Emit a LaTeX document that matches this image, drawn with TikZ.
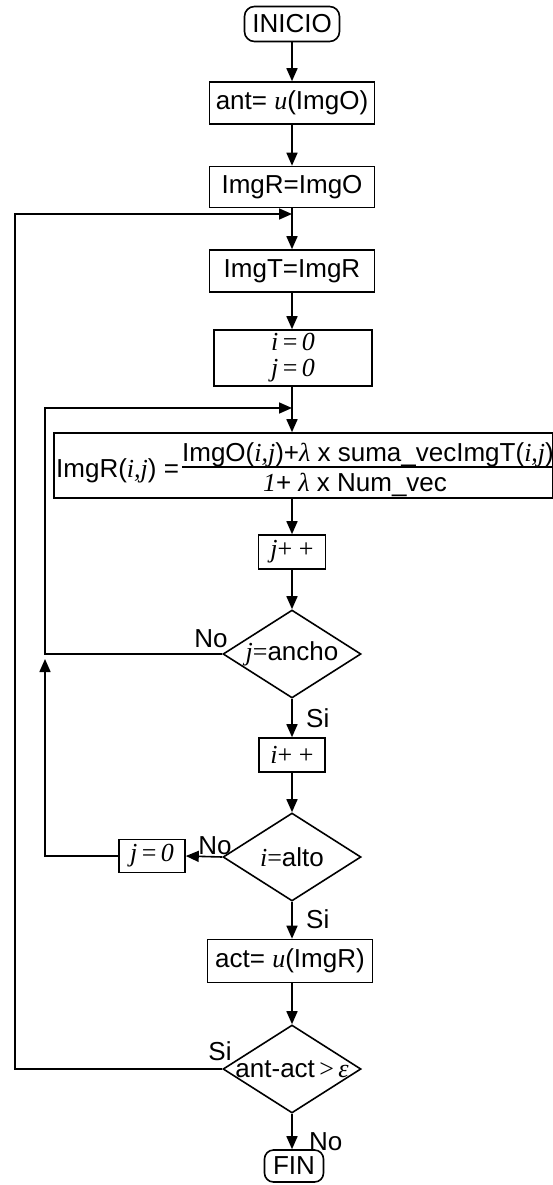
\documentclass[tikz,border=0pt]{standalone}
\usepackage{fontspec}
\setmainfont{Liberation Sans}
\newfontfamily\tms{Liberation Serif}
\usetikzlibrary{arrows.meta,shapes.geometric}
\newcommand{\mi}[1]{{\tms\itshape #1}}
\newcommand{\mr}[1]{{\tms #1}}
\begin{document}
\begin{tikzpicture}[x=1pt,y=-1pt,
  every node/.style={font=\fontsize{26}{27}\selectfont},
  box/.style={draw, line width=1.6pt, rectangle, inner sep=0pt, minimum width=165pt, minimum height=42pt},
  term/.style={draw, line width=1.6pt, rounded corners=10pt, inner sep=0pt, minimum height=35pt},
  dec/.style={draw, line width=1.6pt, diamond, inner sep=0pt, minimum width=138pt, minimum height=88pt},
  lbl/.style={inner sep=0pt},
  flow/.style={line width=1.6pt, -{Triangle[length=13pt,width=11pt]}},
  plain/.style={line width=1.5pt}
]
\useasboundingbox (0,0) rectangle (553,1185);

% nodes
\node[term, minimum width=95pt] (ini) at (292,24) {INICIO};
\node[box] (ant) at (292,103) {ant= \mi{u}(ImgO)};
\node[box, minimum height=41pt] (imgr) at (292,187) {ImgR=ImgO};
\node[box] (imgt) at (292,271) {ImgT=ImgR};
\node[box, minimum width=158pt, minimum height=56pt, align=center] (ij0) at (293,358) {\mi{i}\mr{\,=\,}\mi{0}\\[-1pt]\mi{j}\mr{\,=\,}\mi{0}};
\node[box, minimum width=499pt, minimum height=65pt] (form) at (303.5,465.5) {};
\node[lbl, anchor=base west] (flhs) at (56,477) {ImgR(\mi{i,j}) =};
\node[lbl, anchor=base] (fnum) at (368,461.5) {ImgO(\mi{i,j})+\mi{λ} x suma\_vecImgT(\mi{i,j})};
\node[lbl, anchor=base] (fden) at (355,491.5) {\mi{1}+ \mi{λ} x Num\_vec};
\node[box, minimum width=67pt, minimum height=34pt] (jpp) at (292,552) {\mi{j}\mr{+ +}};
\node[dec] (d1) at (292,654) {\makebox[0pt]{\mi{j}\mr{=}ancho}};
\node[box, minimum width=66pt, minimum height=34pt] (ipp) at (292,755) {\mi{i}\mr{+ +}};
\node[dec] (d2) at (292,857) {\makebox[0pt]{\mi{i}\mr{=}alto}};
\node[box, minimum width=66pt, minimum height=33pt] (j0) at (152,856) {\mi{j}\mr{\,=\,}\mi{0}};
\node[box, minimum height=43pt] (act) at (290,961) {act= \mi{u}(ImgR)};
\node[dec] (d3) at (292,1069) {\makebox[0pt]{ant-act\mr{\,>\,}\mi{ε}}};
\node[term, minimum width=59pt, minimum height=32pt, rounded corners=9pt] (fin) at (294,1166) {FIN};

% labels
\node[lbl, anchor=base] (lno1) at (211,647) {No};
\node[lbl, anchor=base west] (lsi1) at (306,727) {Si};
\node[lbl, anchor=base] (lno2) at (215,854) {No};
\node[lbl, anchor=base west] (lsi2) at (306,928) {Si};
\node[lbl, anchor=base] (lsi3) at (220,1060) {Si};
\node[lbl, anchor=base west] (lno3) at (309,1150) {No};

% coordinates
\coordinate (J1) at (292,214);
\coordinate (J2) at (292,408);
\coordinate (loopA) at (15,214);
\coordinate (loopB) at (45,408);
\coordinate (loopC) at (45,659);

% fraction bar
\draw[plain] (fnum.south west) -- (fnum.south east);

% connectors
\draw[flow] (ini) -- (ant);
\draw[flow] (ant) -- (imgr);
\draw[flow] (imgr) -- (imgt);
\draw[flow] (imgt) -- (ij0.north -| imgt);
\draw[flow] (ij0.south -| imgt) -- (form.north -| imgt);
\draw[flow] (form.south -| jpp) -- (jpp);
\draw[flow] (jpp) -- (d1);
\draw[flow] (d1) -- (ipp);
\draw[flow] (ipp) -- (d2);
\draw[flow] (d2.west) -- (j0.east);
\draw[flow] (d2) -- (act.north -| d2);
\draw[flow] (act.south -| d3) -- (d3);
\draw[flow] (d3) -- (fin.north -| d3);
\draw[flow] (d1.west) -| (loopB) -- (J2);
\draw[flow] (j0.west) -| (loopC);
\draw[flow] (d3.west) -| (loopA) -- (J1);
\end{tikzpicture}
\end{document}
